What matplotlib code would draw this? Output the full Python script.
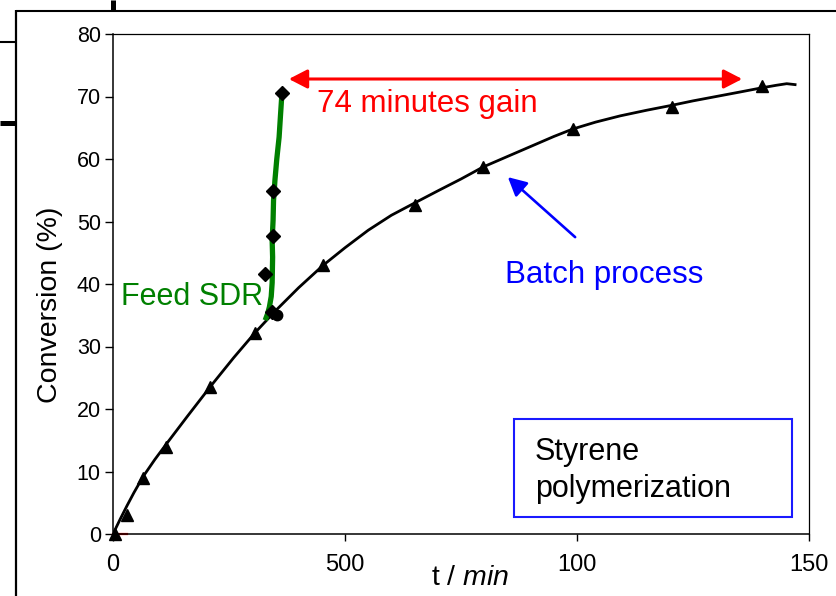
import matplotlib
matplotlib.use('Agg')
import matplotlib.pyplot as plt
from matplotlib.lines import Line2D
from matplotlib.patches import Rectangle

plt.rcParams['font.family'] = ['Liberation Sans', 'DejaVu Sans']
plt.rcParams['mathtext.fontset'] = 'custom'
plt.rcParams['mathtext.rm'] = 'Liberation Sans'
plt.rcParams['mathtext.it'] = 'Liberation Sans:italic'

# ---------------- data ----------------
batch_t = [4, 30, 65, 115, 210, 306, 453, 651, 797, 991, 1205, 1399]
batch_conv = [0.0, 3.0, 9.0, 13.9, 23.6, 32.2, 43.0, 52.7, 58.7, 64.8, 68.3, 71.7]

batch_curve_t = [0, 15, 30, 45, 65, 90, 115, 160, 210, 260, 306, 350, 400,
                 453, 500, 550, 600, 651, 700, 750, 797, 850, 900, 950, 991,
                 1040, 1093, 1150, 1205, 1250, 1300, 1350, 1399, 1430, 1452, 1470]
batch_curve_conv = [0.0, 2.3, 4.5, 6.6, 9.2, 11.9, 14.4, 18.8, 23.6, 28.2,
                    32.2, 35.7, 39.4, 43.0, 45.8, 48.6, 51.0, 53.0, 54.9, 56.8,
                    58.7, 60.4, 62.0, 63.6, 64.8, 65.9, 66.9, 67.8, 68.6, 69.3,
                    70.0, 70.7, 71.4, 71.8, 72.05, 71.9]

sdr_t = [364, 345, 345, 328, 343]
sdr_conv = [70.6, 54.9, 47.7, 41.6, 35.5]
sdr_start_t = [353]
sdr_start_conv = [35.0]

feed_line_t = [364, 361, 358, 353, 349, 346, 345, 343, 344, 343, 341, 337, 333, 328]
feed_line_conv = [70.4, 67.0, 63.5, 60.0, 56.6, 53.4, 50.2, 47.0, 44.3, 40.2,
                  38.0, 36.3, 35.2, 34.2]

red_t = [0, 30]
red_conv = [0.0, 0.0]

gain_t = [379, 1356]
gain_conv = 72.8

x_ticks = [0, 500, 1000, 1500]
x_tick_labels = ['0', '500', '100', '150']
y_ticks = [0, 10, 20, 30, 40, 50, 60, 70, 80]
y_tick_labels = ['0', '10', '20', '30', '40', '50', '60', '70', '80']

# ---------------- figure ----------------
W, H = 836, 596
fig = plt.figure(figsize=(W / 100, H / 100), dpi=100)
ax = fig.add_axes([113 / W, 1 - 534 / H, (809 - 113) / W, (534 - 34) / H])

def px(x, y):
    return x / W, 1 - y / H

# slide frame decorations
for (x0, y0, x1, y1, lw) in [(16, 10.5, 836, 10.5, 1.5), (16, 10, 16, 596, 1.6),
                             (0, 42, 16, 42, 1.5), (0, 122.5, 16, 122.5, 3.6),
                             (112.5, 0, 112.5, 10, 3.6)]:
    a = px(x0, y0); b = px(x1, y1)
    fig.add_artist(Line2D([a[0], b[0]], [a[1], b[1]], transform=fig.transFigure,
                          color='black', lw=lw, solid_capstyle='butt'))

ax.set_xlim(0, 1500)
ax.set_ylim(0, 80)

# batch curve + points
ax.plot(batch_curve_t, batch_curve_conv, color='black', lw=2.0, zorder=3,
        solid_joinstyle='round')
ax.plot(batch_t, batch_conv, linestyle='none', marker='^', ms=9,
        color='black', zorder=4, clip_on=False)

# red stub at origin
ax.plot(red_t, red_conv, color='red', lw=1.6, zorder=2, clip_on=False)

# feed SDR line + points
ax.plot(feed_line_t, feed_line_conv, color='#008000', lw=3.8, zorder=5,
        solid_capstyle='butt', solid_joinstyle='round')
ax.plot(sdr_t, sdr_conv, linestyle='none', marker='D', ms=7.4,
        color='black', zorder=6)
ax.plot(sdr_start_t, sdr_start_conv, linestyle='none', marker='o', ms=7.5,
        color='black', zorder=6)

# gain arrow
ax.annotate('', xy=(gain_t[1], gain_conv), xytext=(gain_t[0], gain_conv),
            arrowprops=dict(arrowstyle='<|-|>,head_length=0.62,head_width=0.32',
                            mutation_scale=18, color='red', lw=2.2,
                            shrinkA=0, shrinkB=0))
ax.text(440, 67.5, '74 minutes gain', color='red', fontsize=22.5,
        ha='left', va='baseline')

# batch process arrow
ax.annotate('', xy=(851, 57.1), xytext=(996, 47.5),
            arrowprops=dict(arrowstyle='-|>,head_length=0.62,head_width=0.32',
                            mutation_scale=18, color='blue', lw=1.9,
                            shrinkA=0, shrinkB=0))
ax.text(845, 40.2, 'Batch process', color='blue', fontsize=22.5,
        ha='left', va='baseline')

ax.text(17, 36.6, 'Feed SDR', color='#008000', fontsize=22,
        ha='left', va='baseline', zorder=4)

# info box
ax.add_patch(Rectangle((864, 2.7), 1463 - 864, 18.4 - 2.7, fill=False,
                       edgecolor='#1a1aff', lw=1.5, zorder=2))
ax.text(909, 11.8, 'Styrene', color='black', fontsize=22, ha='left', va='baseline')
ax.text(909, 5.9, 'polymerization', color='black', fontsize=22, ha='left', va='baseline')

# axes styling
for s in ['left', 'bottom']:
    ax.spines[s].set_linewidth(1.1)
for s in ['top', 'right']:
    ax.spines[s].set_linewidth(0.9)

ax.set_xticks(x_ticks)
ax.set_xticklabels(x_tick_labels, fontsize=17)
ax.set_yticks(y_ticks)
ax.set_yticklabels(y_tick_labels, fontsize=15.5)
ax.tick_params(axis='x', direction='out', length=5.2, width=1, pad=9.5)
ax.tick_params(axis='y', direction='out', length=5.8, width=1, pad=3)

ax.set_xlabel('t / $\\mathit{min}$', fontsize=20.5)
ax.xaxis.set_label_coords((470 - 113) / (809 - 113), -0.062)
ax.set_ylabel('Conversion (%)', fontsize=20.5)
ax.yaxis.set_label_coords((63 - 113) / (809 - 113), (534 - 305) / 500)

fig.savefig('out.png', dpi=100)
